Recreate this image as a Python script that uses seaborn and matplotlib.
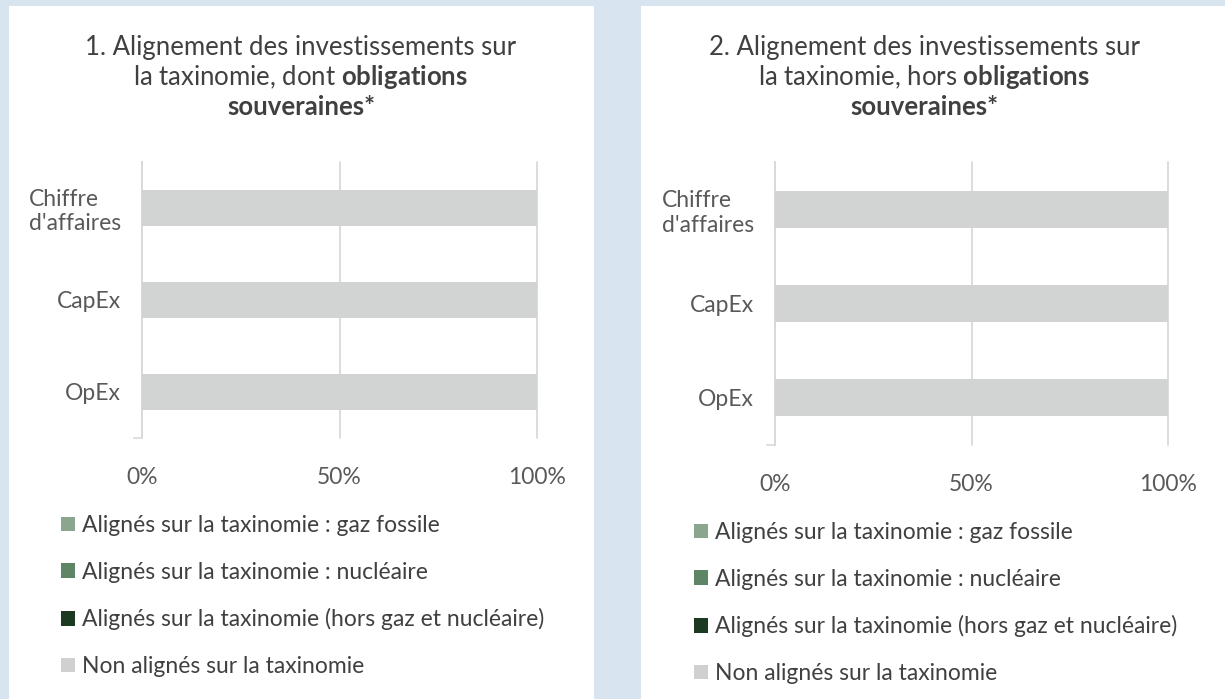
import numpy as np
import pandas as pd
import matplotlib.pyplot as plt
import seaborn as sns
from matplotlib.patches import Patch, Rectangle

# categories and series (share in %)
categories = ["Chiffre\nd'affaires", "CapEx", "OpEx"]
series_names = ["Alignés sur la taxinomie : gaz fossile",
                "Alignés sur la taxinomie : nucléaire",
                "Alignés sur la taxinomie (hors gaz et nucléaire)",
                "Non alignés sur la taxinomie"]
series_colors = ["#8aa68e", "#5e8565", "#1c3a22", "#d1d4d3"]

# chart 1 : dont obligations souveraines
gaz_1 = [0, 0, 0]
nuc_1 = [0, 0, 0]
hors_1 = [0, 0, 0]
non_1 = [100, 100, 100]

# chart 2 : hors obligations souveraines
gaz_2 = [0, 0, 0]
nuc_2 = [0, 0, 0]
hors_2 = [0, 0, 0]
non_2 = [100, 100, 100]

xticks = [0, 50, 100]
xtick_labels = ["0%", "50%", "100%"]

sns.set_style("white")
plt.rcParams['font.family'] = ['Lato', 'DejaVu Sans']
plt.rcParams['mathtext.fontset'] = 'custom'
plt.rcParams['mathtext.rm'] = 'Lato'
plt.rcParams['mathtext.bf'] = 'Lato:bold'

txt = "#404040"
grid_c = "#d9d9d9"

fig = plt.figure(figsize=(12.25, 6.99), dpi=100)
fig.patch.set_facecolor("#d9e4f1")

# white panels
fig.patches.append(Rectangle((9/1225, 0), (594-9)/1225, 1-6/699,
                             transform=fig.transFigure, facecolor="white", edgecolor="none", zorder=-10))
fig.patches.append(Rectangle((641/1225, 0), (1225-641)/1225, 1-6/699,
                             transform=fig.transFigure, facecolor="white", edgecolor="none", zorder=-10))


def draw(ax, gaz, nuc, hors, non):
    df = pd.DataFrame({"cat": categories, "gaz": gaz, "nuc": nuc, "hors": hors, "non": non})
    cols = ["gaz", "nuc", "hors", "non"]
    cum = df[cols].cumsum(axis=1)
    # draw from the total down so the stacks show
    for col, c in reversed(list(zip(cols, series_colors))):
        sns.barplot(x=cum[col], y=df["cat"], color=c, width=0.39, ax=ax,
                    saturation=1, zorder=3, edgecolor="none")
    ax.set_xlim(0, 100)
    ax.set_ylim(2.5, -0.5)
    ax.set_xticks(xticks)
    ax.set_xticklabels(xtick_labels, fontsize=16.5, color="#595959")
    ax.tick_params(axis="x", length=0, pad=21)
    ax.tick_params(axis="y", length=0, pad=15, labelsize=16.5, labelcolor="#595959")
    for lab in ax.get_yticklabels():
        lab.set_multialignment("left")
    ax.set_yticks([2.5], minor=True)
    ax.tick_params(axis="y", which="minor", length=6.5, width=1.2, color=grid_c, left=True)
    ax.grid(axis="x", color=grid_c, linewidth=1.3, zorder=0)
    for line in ax.get_xgridlines():
        line.set_clip_on(False)
    ax.set_axisbelow(True)
    ax.patch.set_alpha(0)
    for s in ["top", "right", "bottom"]:
        ax.spines[s].set_visible(False)
    ax.spines["left"].set_color(grid_c)
    ax.spines["left"].set_linewidth(1.3)
    ax.set_xlabel("")
    ax.set_ylabel("")


ax1 = fig.add_axes([142/1225, 1-438/699, (537-142)/1225, (438-162)/699])
ax2 = fig.add_axes([775/1225, 1-445/699, (1168-775)/1225, (445-162)/699])
draw(ax1, gaz_1, nuc_1, hors_1, non_1)
draw(ax2, gaz_2, nuc_2, hors_2, non_2)

# titles, bold part via mathtext
for xc, num, word in [(301, "1.", "dont"), (924, "2.", "hors")]:
    fig.text(xc/1225, 1-47/699, num + " Alignement des investissements sur",
             ha="center", va="center", fontsize=18.5, color=txt)
    fig.text(xc/1225, 1-77/699, "la taxinomie, " + word + " $\\bf{obligations}$",
             ha="center", va="center", fontsize=18.5, color=txt)
    fig.text(xc/1225, 1-107/699, "souveraines*", ha="center", va="center",
             fontsize=18.5, color=txt, fontweight="bold")

handles = [Patch(facecolor=c, edgecolor="none", label=n) for n, c in zip(series_names, series_colors)]
handles[3].set_facecolor("#d0d0d0")
for xl, yt in [(61/1225, 1-515/699), (694/1225, 1-522/699)]:
    fig.legend(handles=handles, loc="upper left", bbox_to_anchor=(xl, yt), frameon=False,
               fontsize=16.5, labelcolor=txt, handlelength=0.6, handleheight=0.6,
               handletextpad=0.3, labelspacing=1.12, borderaxespad=0, borderpad=0)

fig.savefig("out.png", dpi=100, facecolor=fig.get_facecolor())
